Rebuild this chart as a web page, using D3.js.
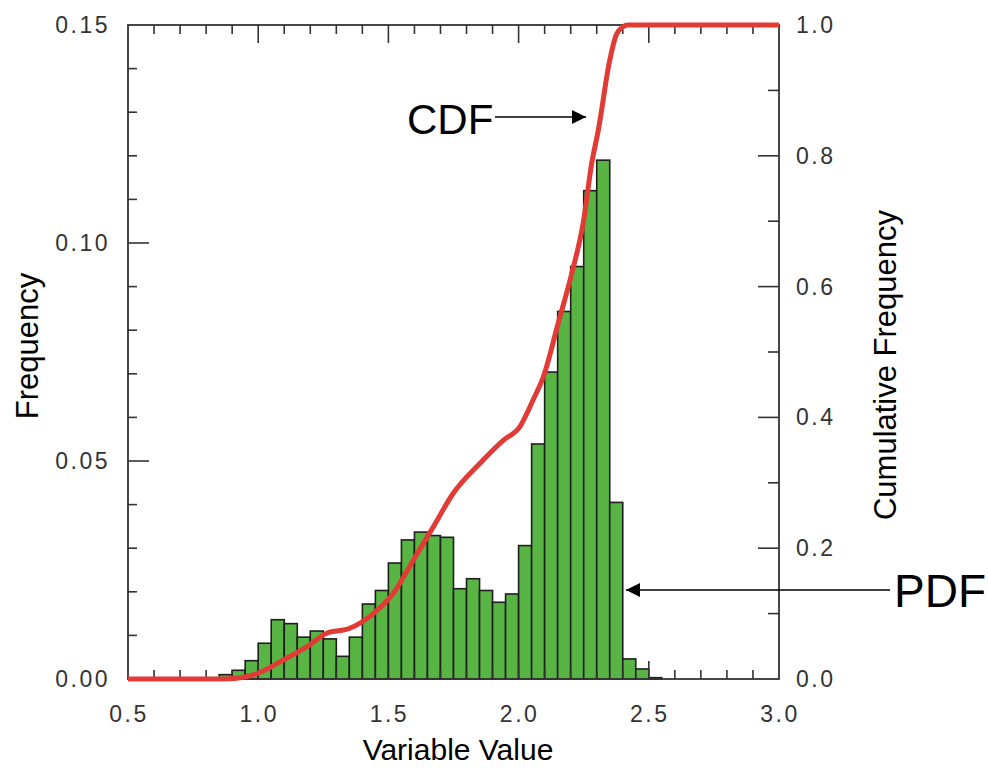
<!DOCTYPE html>
<html>
<head>
<meta charset="utf-8">
<script src="https://cdn.jsdelivr.net/npm/d3@7"></script>
<style>
  body { margin: 0; background: #fff; }
  text { font-family: "Liberation Sans", Arial, sans-serif; }
  .tick-label { font-size: 23px; fill: #333; letter-spacing: 2.5px; }
</style>
</head>
<body>
<div id="chart"></div>
<script>
// histogram bins (left edge, width 0.05) and frequencies
const binStarts = [0.85, 0.90, 0.95, 1.00, 1.05, 1.10, 1.15, 1.20, 1.25, 1.30, 1.35, 1.40, 1.45, 1.50,
    1.55, 1.60, 1.65, 1.70, 1.75, 1.80, 1.85, 1.90, 1.95, 2.00, 2.05, 2.10, 2.15, 2.20, 2.25, 2.30,
    2.35, 2.40, 2.45, 2.50];
const binWidth = 0.05;
const frequency = [0.001, 0.002, 0.0042, 0.0082, 0.0136, 0.0127, 0.0096, 0.011, 0.0092, 0.0052, 0.0096,
    0.0172, 0.0203, 0.0266, 0.0319, 0.0337, 0.0329, 0.0325, 0.0207, 0.023, 0.0203, 0.0176, 0.0195,
    0.0306, 0.0539, 0.0704, 0.0843, 0.0946, 0.112, 0.119, 0.0405, 0.0046, 0.0023, 0.0003];

// cumulative curve
const cdfX = [0.5, 0.87, 0.95, 1.0, 1.096, 1.186, 1.263, 1.352, 1.442, 1.519, 1.596, 1.673, 1.749,
    1.852, 1.941, 2.005, 2.056, 2.095, 2.152, 2.204, 2.248, 2.281, 2.306, 2.35, 2.375, 2.4, 2.42, 3.0];
const cdfY = [0, 0, 0.003, 0.009, 0.029, 0.049, 0.07, 0.0775, 0.1, 0.131, 0.182, 0.233, 0.284,
    0.33, 0.365, 0.386, 0.427, 0.462, 0.544, 0.62, 0.697, 0.789, 0.839, 0.946, 0.985, 0.997, 1.0, 1.0];

const xLabels = ["0.5", "1.0", "1.5", "2.0", "2.5", "3.0"];
const leftLabels = ["0.00", "0.05", "0.10", "0.15"];
const rightLabels = ["0.0", "0.2", "0.4", "0.6", "0.8", "1.0"];

const width = 988, height = 769;
const svg = d3.select("#chart").append("svg")
    .attr("width", width)
    .attr("height", height);

const x = d3.scaleLinear().domain([0.5, 3.0]).range([128, 779]);
const yL = d3.scaleLinear().domain([0, 0.15]).range([679, 25]);
const yR = d3.scaleLinear().domain([0, 1]).range([679, 25]);

// bars
svg.append("g").selectAll("rect")
    .data(binStarts.map((b, i) => ({ b, f: frequency[i] })))
    .enter()
    .append("rect")
    .attr("x", d => x(d.b))
    .attr("width", d => x(d.b + binWidth) - x(d.b))
    .attr("y", d => yL(d.f))
    .attr("height", d => yL(0) - yL(d.f))
    .attr("fill", "#58b544")
    .attr("stroke", "#1e1e1e")
    .attr("stroke-width", 1.6);

// frame
svg.append("rect")
    .attr("x", x(0.5)).attr("y", yL(0.15))
    .attr("width", x(3.0) - x(0.5)).attr("height", yL(0) - yL(0.15))
    .attr("fill", "none").attr("stroke", "#333").attr("stroke-width", 1.8);

const tickG = svg.append("g").attr("stroke", "#333").attr("stroke-width", 1.6);

// x ticks (inward), bottom and top
d3.range(6, 30).forEach(i => {
    const v = i / 10;
    const major = i % 5 === 0;
    const len = major ? 18 : 9;
    tickG.append("line").attr("x1", x(v)).attr("x2", x(v))
        .attr("y1", yL(0)).attr("y2", yL(0) - len);
    tickG.append("line").attr("x1", x(v)).attr("x2", x(v))
        .attr("y1", yL(0.15)).attr("y2", yL(0.15) + len);
});

// left ticks every 0.01
d3.range(1, 15).forEach(i => {
    const v = i / 100;
    const len = i % 5 === 0 ? 21 : 9;
    tickG.append("line").attr("x1", x(0.5)).attr("x2", x(0.5) + len)
        .attr("y1", yL(v)).attr("y2", yL(v));
});

// right ticks every 0.1
d3.range(1, 10).forEach(i => {
    const v = i / 10;
    const len = i % 2 === 0 ? 21 : 11;
    tickG.append("line").attr("x1", x(3.0)).attr("x2", x(3.0) - len)
        .attr("y1", yR(v)).attr("y2", yR(v));
});

// tick labels
svg.selectAll(".xl").data(xLabels).enter().append("text")
    .attr("class", "tick-label")
    .attr("x", d => x(+d) + 1)
    .attr("y", 722)
    .attr("text-anchor", "middle")
    .text(d => d);

svg.selectAll(".ll").data(leftLabels).enter().append("text")
    .attr("class", "tick-label")
    .attr("x", 110)
    .attr("y", d => yL(+d) + 8)
    .attr("text-anchor", "end")
    .text(d => d);

svg.selectAll(".rl").data(rightLabels).enter().append("text")
    .attr("class", "tick-label")
    .attr("x", 796)
    .attr("y", d => yR(+d) + 8)
    .text(d => d);

// CDF line
const line = d3.line()
    .x(d => x(d[0]))
    .y(d => yR(d[1]))
    .curve(d3.curveMonotoneX);

svg.append("path")
    .datum(cdfX.map((v, i) => [v, cdfY[i]]))
    .attr("d", line)
    .attr("fill", "none")
    .attr("stroke", "#e23b36")
    .attr("stroke-width", 5)
    .attr("stroke-linejoin", "round");

// axis titles
svg.append("text")
    .attr("x", 458).attr("y", 760)
    .attr("text-anchor", "middle")
    .style("font-size", "30px")
    .text("Variable Value");

svg.append("text")
    .attr("transform", "translate(38,346) rotate(-90)")
    .attr("text-anchor", "middle")
    .style("font-size", "31px")
    .text("Frequency");

svg.append("text")
    .attr("transform", "translate(896,365) rotate(-90)")
    .attr("text-anchor", "middle")
    .style("font-size", "31px")
    .text("Cumulative Frequency");

// annotations
svg.append("defs").append("marker")
    .attr("id", "arrow")
    .attr("viewBox", "0 0 10 10")
    .attr("refX", 10).attr("refY", 5)
    .attr("markerWidth", 15).attr("markerHeight", 14)
    .attr("markerUnits", "userSpaceOnUse")
    .attr("orient", "auto")
    .append("path")
    .attr("d", "M0,0 L10,5 L0,10 Z")
    .attr("fill", "#000");

svg.append("text")
    .attr("x", 407).attr("y", 134)
    .style("font-size", "42px")
    .text("CDF");

svg.append("line")
    .attr("x1", 495).attr("y1", 117)
    .attr("x2", 586).attr("y2", 117)
    .attr("stroke", "#000").attr("stroke-width", 1.6)
    .attr("marker-end", "url(#arrow)");

svg.append("text")
    .attr("x", 894).attr("y", 607)
    .style("font-size", "46px")
    .text("PDF");

svg.append("line")
    .attr("x1", 890).attr("y1", 590)
    .attr("x2", 626).attr("y2", 590)
    .attr("stroke", "#000").attr("stroke-width", 1.6)
    .attr("marker-end", "url(#arrow)");
</script>
</body>
</html>
